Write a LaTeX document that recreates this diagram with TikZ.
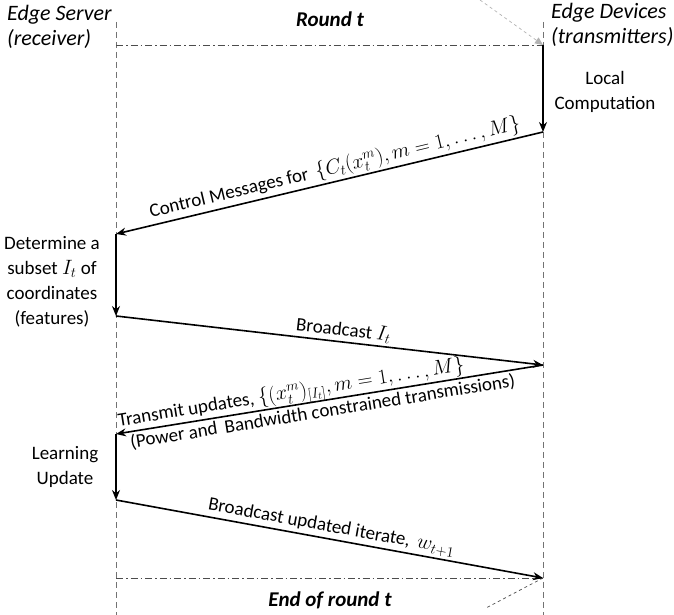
\documentclass[tikz,border=0pt]{standalone}
\usepackage{fontspec}
\setmainfont{Carlito}
\usetikzlibrary{arrows.meta}
% math set a little larger than the surrounding text
\newcommand{\bigmath}[1]{{\fontsize{21}{25}\selectfont$#1$}}
\newcommand{\midmath}[1]{{\fontsize{20}{24}\selectfont$#1$}}
\begin{document}
\begin{tikzpicture}[x=1pt,y=-1pt,
  msg/.style={line width=1.6pt, -{Stealth[length=10pt,width=8pt]}},
  life/.style={black!55, line width=0.8pt, dash pattern=on 6pt off 4pt},
  roundline/.style={black!70, line width=0.8pt, dash pattern=on 7pt off 3pt on 1.5pt off 3pt},
  lbl/.style={font=\fontsize{19}{24}\selectfont, inner sep=2pt},
  side/.style={font=\fontsize{19}{25}\selectfont, align=center, inner sep=0pt},
  hdr/.style={font=\fontsize{22}{25}\selectfont\itshape, align=left, inner sep=0pt},
  ttl/.style={font=\fontsize{21}{25}\selectfont\bfseries\itshape}]
\useasboundingbox (0,0) rectangle (674,615);

% lifelines of the server (left) and the devices (right)
\coordinate (Ltop) at (116,22);
\coordinate (Lbot) at (116,615);
\coordinate (Rtop) at (543,22);
\coordinate (Rbot) at (543,615);
\draw[life] (Ltop) -- (Lbot);
\draw[life] (Rtop) -- (Rbot);

% event points on the lifelines
\coordinate (L0) at (116,45);
\coordinate (R1) at (543,45);
\coordinate (R2) at (543,132);
\coordinate (L1) at (116,234);
\coordinate (L2) at (116,316);
\coordinate (R3) at (543,365);
\coordinate (L3) at (116,434);
\coordinate (L4) at (116,500);
\coordinate (R4) at (543,578);
\coordinate (L5) at (116,578);

% headers
\node[hdr, anchor=north west] (srv) at (7,5) {Edge Server\\(receiver)};
\node[hdr, anchor=north west] (dev) at (551,3) {Edge Devices\\(transmitters)};
\node[ttl] (rnd) at (330,19) {Round t};
\node[ttl] (endr) at (330,600) {End of round t};

% round boundaries
\draw[roundline] (L0) -- (R1);
\draw[roundline] (L5) -- (R4);
\coordinate (gtop) at (480,0);
\coordinate (gbot) at (486,608);
\draw[gray!60, dashed, line width=0.7pt, -{Triangle[length=8pt,width=7pt]}] (gtop) -- (R1);
\draw[black!70, dashed, line width=0.7pt] (R4) -- (gbot);

% local computation at the devices
\draw[msg] (R1) -- (R2);
\node[side] (lc) at (605,92) {Local\\Computation};

% control messages
\draw[msg] (R2) -- node[lbl, sloped, above, pos=0.48]
  {Control Messages for\, \bigmath{\{C_t(x_t^m), m = 1, \ldots, M\}}} (L1);

% subset selection at the server
\draw[msg] (L1) -- (L2);
\node[side] (det) at (52,282) {Determine a\\subset \bigmath{I_t} of\\coordinates\\(features)};

% broadcast of the subset
\draw[msg] (L2) -- node[lbl, sloped, above, pos=0.53] {Broadcast \bigmath{I_t}} (R3);

% transmitted updates
\draw[msg] (R3) --
  node[lbl, sloped, above, pos=0.585, inner sep=0pt, yshift=-1pt]
    {Transmit updates, \midmath{\bigl\{(x_t^m)_{[I_t]}, m = 1, \ldots, M\bigr\}}}
  node[lbl, sloped, below, pos=0.52, inner sep=2pt]
    {(Power and\, Bandwidth constrained transmissions)}
  (L3);

% learning update at the server
\draw[msg] (L3) -- (L4);
\node[side] (lu) at (65,467) {Learning\\Update};

% broadcast of the new iterate
\draw[msg] (L4) -- node[lbl, sloped, above, pos=0.5]
  {Broadcast updated iterate,\, \bigmath{w_{t+1}}} (R4);
\end{tikzpicture}
\end{document}
